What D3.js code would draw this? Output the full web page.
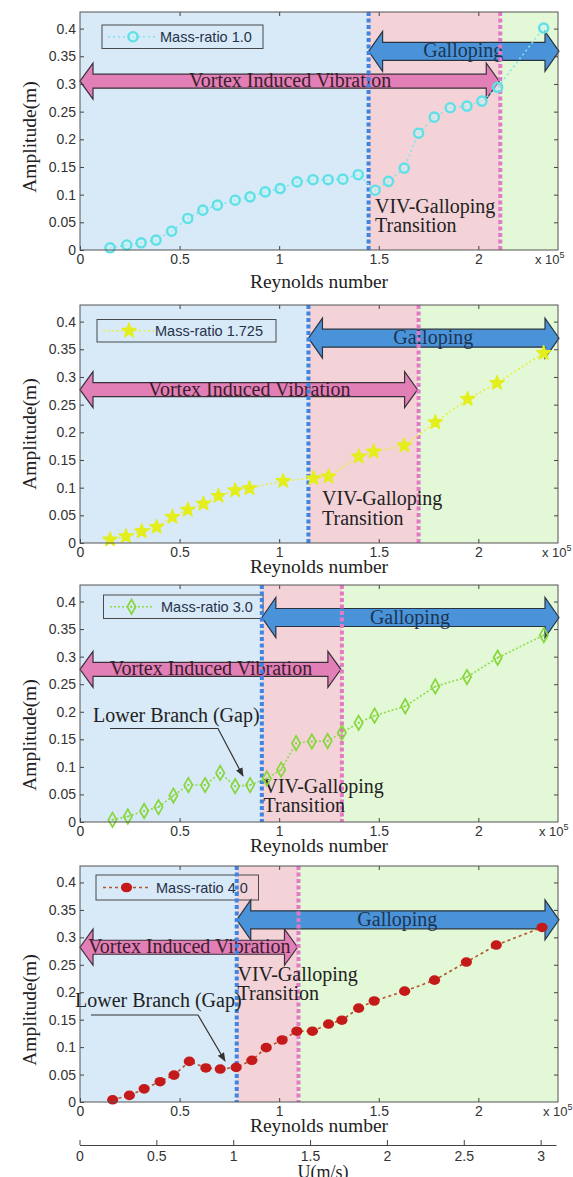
<!DOCTYPE html>
<html>
<head>
<meta charset="utf-8">
<script src="https://cdn.jsdelivr.net/npm/d3@7"></script>
<style>
  body { margin: 0; background: #fff; }
  svg text { font-kerning: normal; }
</style>
</head>
<body>
<svg id="fig" width="573" height="1177"></svg>
<script>
// Reynolds number (x 10^5) and oscillation amplitude (m), one pair per mass ratio
const reynolds10 = [0.151, 0.235, 0.307, 0.382, 0.46, 0.541, 0.617, 0.69, 0.779, 0.854, 0.93, 1.005, 1.09, 1.17, 1.246, 1.32, 1.397, 1.482, 1.549, 1.628, 1.70, 1.779, 1.859, 1.943, 2.018, 2.097, 2.328];
const amplitude10 = [0.004, 0.009, 0.013, 0.018, 0.034, 0.057, 0.072, 0.081, 0.09, 0.096, 0.105, 0.111, 0.123, 0.127, 0.127, 0.128, 0.136, 0.108, 0.124, 0.148, 0.211, 0.24, 0.257, 0.26, 0.269, 0.294, 0.401];

const reynolds1725 = [0.151, 0.231, 0.31, 0.385, 0.464, 0.541, 0.62, 0.695, 0.779, 0.851, 1.02, 1.172, 1.248, 1.40, 1.474, 1.628, 1.784, 1.946, 2.094, 2.328];
const amplitude1725 = [0.006, 0.012, 0.021, 0.029, 0.047, 0.06, 0.071, 0.085, 0.095, 0.099, 0.112, 0.117, 0.12, 0.156, 0.165, 0.176, 0.218, 0.26, 0.289, 0.343];

const reynolds30 = [0.163, 0.24, 0.322, 0.394, 0.469, 0.544, 0.628, 0.704, 0.779, 0.854, 0.938, 1.01, 1.085, 1.164, 1.243, 1.315, 1.399, 1.479, 1.633, 1.784, 1.943, 2.097, 2.329];
const amplitude30 = [0.004, 0.01, 0.02, 0.027, 0.048, 0.067, 0.067, 0.089, 0.065, 0.067, 0.079, 0.095, 0.143, 0.146, 0.147, 0.162, 0.18, 0.193, 0.21, 0.246, 0.263, 0.298, 0.339];

const reynolds40 = [0.164, 0.248, 0.322, 0.402, 0.472, 0.549, 0.632, 0.704, 0.784, 0.863, 0.935, 1.015, 1.089, 1.167, 1.248, 1.315, 1.399, 1.477, 1.63, 1.78, 1.94, 2.09, 2.32];
const amplitude40 = [0.004, 0.012, 0.024, 0.037, 0.049, 0.074, 0.062, 0.06, 0.063, 0.076, 0.099, 0.113, 0.129, 0.129, 0.142, 0.149, 0.171, 0.184, 0.202, 0.222, 0.255, 0.286, 0.318];

const legendLabels = ["Mass-ratio 1.0", "Mass-ratio 1.725", "Mass-ratio 3.0", "Mass-ratio 4.0"];

// Regime boundaries (Reynolds x 10^5): end of VIV and onset of galloping
const vivEnd = [1.449, 1.147, 0.913, 0.787];
const gallopStart = [2.11, 1.70, 1.315, 1.097];
// Heights (m) at which the regime arrows are drawn
const vivArrowLevel = [0.305, 0.277, 0.277, 0.282];
const gallopArrowLevel = [0.359, 0.37, 0.371, 0.332];

const xTicks = [0, 0.5, 1, 1.5, 2];
const yTicks = [0, 0.05, 0.1, 0.15, 0.2, 0.25, 0.3, 0.35, 0.4];
const uTicks = [0, 0.5, 1, 1.5, 2, 2.5, 3];

const SERIF = "'Liberation Serif','Times New Roman','DejaVu Serif',serif";
const SANS = "'Liberation Sans',Arial,sans-serif";

const svg = d3.select("#fig");

const series = [
  { re: reynolds10, amp: amplitude10, color: "#5fe0e6", line: "#7ee6ea", dash: "2,3", marker: "circle" },
  { re: reynolds1725, amp: amplitude1725, color: "#e4ee1c", line: "#e8ef40", dash: "2,2.5", marker: "star" },
  { re: reynolds30, amp: amplitude30, color: "#86d63c", line: "#8edb48", dash: "2,2", marker: "diamond" },
  { re: reynolds40, amp: amplitude40, color: "#c41a1a", line: "#b5552e", dash: "3,3", marker: "dot" }
];

// Panel frames and text placement
const layout = [
  { top: 12,  bottom: 250,  xlab: 38, ylabC: 137,  expX: 535, leg: [102, 25, 263, 48.5],  legTx: 160, legLine: [108, 158], trans: [375, 213, 232], lower: null },
  { top: 305, bottom: 543,  xlab: 30, ylabC: 434,  expX: 542, leg: [97, 319.5, 276, 342], legTx: 155, legLine: [103, 155], trans: [322, 505, 525], lower: null },
  { top: 585, bottom: 822,  xlab: 30, ylabC: 735,  expX: 539, leg: [103.5, 595, 263, 618.5], legTx: 161, legLine: [110, 153], trans: [263.5, 793, 812],
    lower: { tx: 93, ty: 721.5, path: [[110, 728.5], [218, 728.5], [243, 776]] } },
  { top: 866, bottom: 1102, xlab: 30, ylabC: 1010, expX: 543, leg: [96, 875, 258.5, 900], legTx: 156, legLine: [103, 150], trans: [237.5, 981, 1000],
    lower: { tx: 75, ty: 1006.5, path: [[91, 1015], [198, 1015], [225, 1061]] } }
];

const LEFT = 80, RIGHT = 558;
const x = d3.scaleLinear().domain([0, 2.4]).range([LEFT, RIGHT]);

const defs = svg.append("defs");
defs.append("marker").attr("id", "ahead").attr("viewBox", "0 0 10 10")
  .attr("refX", 9).attr("refY", 5).attr("markerWidth", 9).attr("markerHeight", 9)
  .attr("markerUnits", "userSpaceOnUse").attr("orient", "auto")
  .append("path").attr("d", "M0,1 L10,5 L0,9 Z").attr("fill", "#333");

function arrowPath(x0, x1, cy, hs, hh, hl) {
  return `M${x0},${cy} L${x0 + hl},${cy - hh} L${x0 + hl},${cy - hs} L${x1 - hl},${cy - hs} L${x1 - hl},${cy - hh} L${x1},${cy} ` +
         `L${x1 - hl},${cy + hh} L${x1 - hl},${cy + hs} L${x0 + hl},${cy + hs} L${x0 + hl},${cy + hh} Z`;
}

function drawMarker(g, kind, px, py, color) {
  if (kind === "circle") {
    g.append("circle").attr("cx", px).attr("cy", py).attr("r", 4.6)
      .attr("fill", "#c8f4f6").attr("fill-opacity", 0.5).attr("stroke", color).attr("stroke-width", 2.4);
  } else if (kind === "star") {
    g.append("path").attr("transform", `translate(${px},${py})`)
      .attr("d", d3.symbol(d3.symbolStar, 60)())
      .attr("fill", color).attr("stroke", color).attr("stroke-width", 1.6).attr("stroke-linejoin", "round");
    g.append("circle").attr("cx", px).attr("cy", py).attr("r", 4).attr("fill", color);
  } else if (kind === "diamond") {
    g.append("path").attr("transform", `translate(${px},${py})`)
      .attr("d", d3.symbol(d3.symbolDiamond, 60)())
      .attr("fill", "none").attr("stroke", color).attr("stroke-width", 1.7);
    g.append("circle").attr("cx", px).attr("cy", py).attr("r", 1).attr("fill", color);
  } else {
    g.append("ellipse").attr("cx", px).attr("cy", py).attr("rx", 5.6).attr("ry", 4.8).attr("fill", color);
  }
}

layout.forEach((L, i) => {
  const s = series[i];
  const y = d3.scaleLinear().domain([0, 0.43]).range([L.bottom, L.top]);
  const g = svg.append("g");

  // Regime backgrounds: VIV, transition, galloping
  const regions = [
    [0, vivEnd[i], "#d8e9f7"],
    [vivEnd[i], gallopStart[i], "#f3d3d8"],
    [gallopStart[i], 2.4, "#e3f8d6"]
  ];
  g.selectAll("rect.region").data(regions).join("rect")
    .attr("x", d => x(d[0])).attr("width", d => x(d[1]) - x(d[0]))
    .attr("y", L.top).attr("height", L.bottom - L.top).attr("fill", d => d[2]);

  // Legend
  const [lx0, ly0, lx1, ly1] = L.leg;
  const legMid = (ly0 + ly1) / 2;
  g.append("rect").attr("x", lx0).attr("y", ly0).attr("width", lx1 - lx0).attr("height", ly1 - ly0)
    .attr("fill", "none").attr("stroke", "#4a4a4a").attr("stroke-width", 1);
  g.append("line").attr("x1", L.legLine[0]).attr("x2", L.legLine[1]).attr("y1", legMid).attr("y2", legMid)
    .attr("stroke", s.line).attr("stroke-width", 1.5).attr("stroke-dasharray", s.dash);
  drawMarker(g, s.marker, (L.legLine[0] + L.legLine[1]) / 2, legMid, s.color);
  g.append("text").attr("x", L.legTx).attr("y", legMid + 5).text(legendLabels[i])
    .attr("font-family", SANS).attr("font-size", 14.5).attr("fill", "#27324a");

  // Regime arrows
  const vy = y(vivArrowLevel[i]);
  g.append("path").attr("d", arrowPath(x(0), x(gallopStart[i]) - 1, vy, 7, 18, 13))
    .attr("fill", "#e27fb7").attr("stroke", "#3a3038").attr("stroke-width", 1.2);
  g.append("text").attr("x", (x(0) + x(gallopStart[i])) / 2).attr("y", vy + 6)
    .attr("text-anchor", "middle").attr("font-family", SERIF).attr("font-size", 20)
    .attr("fill", "#3a1e2c").text("Vortex Induced Vibration");

  const gy = y(gallopArrowLevel[i]);
  g.append("path").attr("d", arrowPath(x(vivEnd[i]), RIGHT + 1, gy, 9, 20, 14))
    .attr("fill", "#4b93d8").attr("stroke", "#2a3440").attr("stroke-width", 1.2);
  g.append("text").attr("x", (x(vivEnd[i]) + RIGHT) / 2).attr("y", gy + 6)
    .attr("text-anchor", "middle").attr("font-family", SERIF).attr("font-size", 20)
    .attr("fill", "#1c3554").text("Galloping");

  // Regime boundaries
  g.append("line").attr("x1", x(vivEnd[i])).attr("x2", x(vivEnd[i])).attr("y1", L.top).attr("y2", L.bottom)
    .attr("stroke", "#3f84e0").attr("stroke-width", 4).attr("stroke-dasharray", "4,2.5");
  g.append("line").attr("x1", x(gallopStart[i])).attr("x2", x(gallopStart[i])).attr("y1", L.top).attr("y2", L.bottom)
    .attr("stroke", "#e27ac6").attr("stroke-width", 4).attr("stroke-dasharray", "4,2.5");

  // Transition label
  const tr = g.append("text").attr("font-family", SERIF).attr("font-size", 20).attr("fill", "#222");
  tr.append("tspan").attr("x", L.trans[0]).attr("y", L.trans[1]).text("VIV-Galloping");
  tr.append("tspan").attr("x", L.trans[0]).attr("y", L.trans[2]).text("Transition");

  // Lower-branch annotation
  if (L.lower) {
    g.append("text").attr("x", L.lower.tx).attr("y", L.lower.ty).attr("font-family", SERIF)
      .attr("font-size", 20).attr("fill", "#222").text("Lower Branch (Gap)");
    g.append("path").attr("d", d3.line()(L.lower.path)).attr("fill", "none")
      .attr("stroke", "#333").attr("stroke-width", 1.2).attr("marker-end", "url(#ahead)");
  }

  // Amplitude series
  const pts = s.re.map((r, k) => [r, s.amp[k]]);
  g.append("path").datum(pts)
    .attr("d", d3.line().x(d => x(d[0])).y(d => y(d[1])))
    .attr("fill", "none").attr("stroke", s.line).attr("stroke-width", 1.6).attr("stroke-dasharray", s.dash);
  pts.forEach(d => drawMarker(g, s.marker, x(d[0]), y(d[1]), s.color));

  // Axes with inward ticks on all four sides
  const styleAxis = sel => {
    sel.select(".domain").remove();
    sel.selectAll("line").attr("stroke", "#444");
    sel.selectAll("text").attr("font-family", SANS).attr("font-size", 14).attr("fill", "#333");
  };
  g.append("g").attr("transform", `translate(0,${L.bottom})`)
    .call(d3.axisBottom(x).tickValues(xTicks).tickSize(-4).tickPadding(4).tickFormat(d => String(d))).call(styleAxis);
  g.append("g").attr("transform", `translate(0,${L.top})`)
    .call(d3.axisTop(x).tickValues(xTicks.slice(1)).tickSize(-4).tickFormat("")).call(styleAxis);
  g.append("g").attr("transform", `translate(${LEFT},0)`)
    .call(d3.axisLeft(y).tickValues(yTicks).tickSize(-4).tickPadding(4).tickFormat(d => String(d))).call(styleAxis);
  g.append("g").attr("transform", `translate(${RIGHT},0)`)
    .call(d3.axisRight(y).tickValues(yTicks.slice(1)).tickSize(-4).tickFormat("")).call(styleAxis);
  g.append("rect").attr("x", LEFT).attr("y", L.top).attr("width", RIGHT - LEFT).attr("height", L.bottom - L.top)
    .attr("fill", "none").attr("stroke", "#555").attr("stroke-width", 1);

  // Exponent of the Reynolds axis
  const ex = g.append("text").attr("x", L.expX).attr("y", L.bottom + 14)
    .attr("font-family", SANS).attr("font-size", 13).attr("fill", "#333");
  ex.append("tspan").text("x 10");
  ex.append("tspan").attr("font-size", 9).attr("dy", -6).text("5");

  g.append("text").attr("x", (LEFT + RIGHT) / 2).attr("y", L.bottom + L.xlab).attr("text-anchor", "middle")
    .attr("font-family", SERIF).attr("font-size", 19.5).attr("fill", "#222").text("Reynolds number");
  g.append("text").attr("transform", `translate(36,${L.ylabC}) rotate(-90)`).attr("text-anchor", "middle")
    .attr("font-family", SERIF).attr("font-size", 19.5).attr("fill", "#222").text("Amplitude(m)");
});

// Flow-speed axis under the last panel
const u = d3.scaleLinear().domain([0, 3.1]).range([79.5, 556]);
const ua = svg.append("g").attr("transform", "translate(0,1145)")
  .call(d3.axisBottom(u).tickValues(uTicks).tickSize(-5).tickPadding(6).tickSizeOuter(0).tickFormat(d => String(d)));
ua.select(".domain").attr("stroke", "#444");
ua.selectAll("line").attr("stroke", "#444");
ua.selectAll("text").attr("font-family", SANS).attr("font-size", 14).attr("fill", "#333");
svg.append("text").attr("x", 323).attr("y", 1178).attr("text-anchor", "middle")
  .attr("font-family", SERIF).attr("font-size", 18).attr("fill", "#222").text("U(m/s)");
</script>
</body>
</html>
